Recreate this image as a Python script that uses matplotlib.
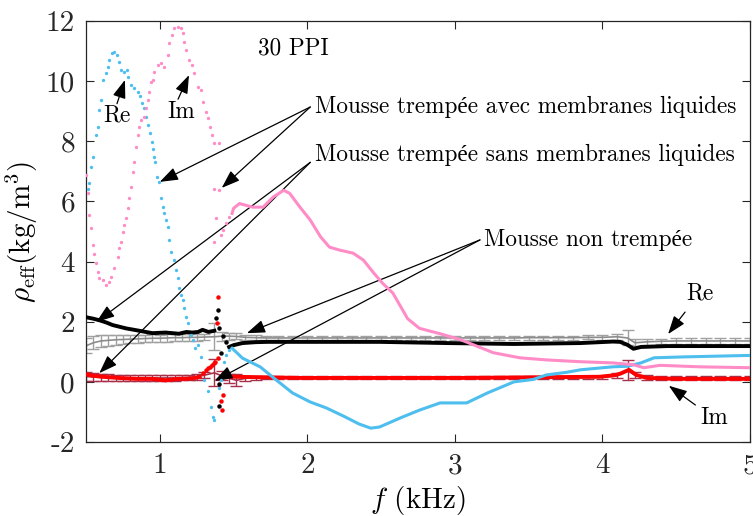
import numpy as np
import matplotlib
matplotlib.use("Agg")
import matplotlib.pyplot as plt

plt.rcParams['font.family'] = ['cmr10', 'Liberation Serif']
plt.rcParams['mathtext.fontset'] = 'cm'
plt.rcParams['axes.unicode_minus'] = False

# --- mousse trempee avec membranes liquides (Re: blue, Im: pink) ---
blue_dot_x = [0.511, 0.523, 0.534, 0.550, 0.568, 0.579, 0.586, 0.602, 0.618, 0.636,
              0.647, 0.658, 0.676, 0.692, 0.708, 0.726, 0.737, 0.760, 0.776, 0.787,
              0.805, 0.828, 0.850, 0.866, 0.880, 0.895, 0.907, 0.918, 0.934, 0.945,
              0.952, 0.963, 0.970, 0.979, 0.993, 1.008, 1.020, 1.031, 1.042, 1.054,
              1.065, 1.076, 1.099, 1.110, 1.121, 1.133, 1.144, 1.155, 1.167, 1.178,
              1.189, 1.212, 1.228, 1.241, 1.257, 1.280, 1.302, 1.325, 1.347, 1.359,
              1.370, 1.404, 1.415, 1.438, 1.449, 1.472]
blue_dot_y = [6.43, 6.60, 7.16, 7.49, 8.21, 8.49, 9.04, 9.37, 10.04, 10.26,
              10.48, 10.70, 10.92, 10.98, 10.87, 10.65, 10.37, 10.31, 10.37, 10.13,
              9.87, 9.76, 9.65, 9.51, 9.26, 9.10, 8.82, 8.54, 8.26, 7.99,
              7.76, 7.49, 7.32, 6.82, 6.66, 6.10, 5.82, 5.60, 5.38, 5.16,
              4.72, 4.33, 4.05, 3.72, 3.44, 3.11, 2.89, 2.72, 2.44, 2.17,
              1.95, 1.56, 1.39, 1.11, 1.22, 0.84, 0.06, -0.29, -0.82, -1.16,
              -1.27, -0.21, 0.06, 0.67, 0.89, 1.06]
blue_line_x = [1.49, 1.56, 1.68, 1.79, 1.90, 2.02, 2.13, 2.25, 2.35, 2.43, 2.49, 2.63,
               2.76, 2.90, 3.00, 3.08, 3.22, 3.40, 3.53, 3.62, 3.76, 3.85, 3.98, 4.07,
               4.17, 4.26, 4.35, 4.55, 5.0]
blue_line_y = [1.12, 0.79, 0.50, 0.06, -0.37, -0.67, -0.87, -1.15, -1.40, -1.54, -1.50, -1.20,
               -0.94, -0.70, -0.70, -0.70, -0.37, 0.0, 0.08, 0.23, 0.32, 0.40, 0.46, 0.50,
               0.52, 0.63, 0.80, 0.83, 0.88]

pink_dot_x = [0.500, 0.511, 0.523, 0.534, 0.545, 0.556, 0.568, 0.579, 0.590, 0.613,
              0.636, 0.658, 0.669, 0.692, 0.715, 0.726, 0.737, 0.749, 0.760, 0.771,
              0.782, 0.794, 0.805, 0.816, 0.828, 0.839, 0.850, 0.862, 0.873, 0.895,
              0.907, 0.918, 0.929, 0.941, 0.952, 0.963, 0.986, 1.008, 1.031, 1.054,
              1.065, 1.083, 1.099, 1.121, 1.144, 1.155, 1.167, 1.178, 1.201, 1.219,
              1.234, 1.257, 1.280, 1.291, 1.314, 1.325, 1.341, 1.354, 1.370, 1.399,
              1.370, 1.404, 1.370, 1.381, 1.415, 1.427, 1.449, 1.472]
pink_dot_y = [6.88, 6.27, 5.55, 5.10, 4.55, 4.25, 3.94, 3.66, 3.44, 3.39,
              3.22, 3.33, 3.50, 3.77, 4.16, 4.44, 4.66, 5.00, 5.22, 5.44,
              5.77, 6.10, 6.49, 6.99, 7.32, 7.82, 8.21, 8.49, 8.71, 8.82,
              9.10, 9.37, 9.65, 9.98, 10.04, 10.31, 10.54, 10.59, 10.48, 10.87,
              11.26, 11.53, 11.76, 11.81, 11.76, 11.59, 11.31, 11.04, 10.70, 10.54,
              10.26, 9.82, 9.71, 9.32, 8.98, 8.76, 8.49, 8.21, 7.93, 7.93,
              6.43, 6.38, 4.66, 5.44, 4.88, 5.05, 5.27, 5.49]
pink_line_x = [1.49, 1.50, 1.54, 1.63, 1.70, 1.77, 1.84, 1.88, 1.95, 2.02, 2.09, 2.15,
               2.22, 2.31, 2.38, 2.45, 2.51, 2.58, 2.68, 2.76, 2.90, 3.04, 3.26, 3.44,
               3.62, 3.85, 4.07, 4.21, 4.28, 4.39, 4.66, 5.0]
pink_line_y = [5.60, 5.77, 5.93, 5.81, 5.81, 6.15, 6.37, 6.27, 5.81, 5.38, 4.82, 4.48,
               4.38, 4.28, 4.05, 3.62, 3.28, 2.95, 2.10, 1.78, 1.60, 1.40, 0.97, 0.80,
               0.73, 0.67, 0.63, 0.57, 0.47, 0.55, 0.50, 0.47]

# --- mousse trempee sans membranes liquides (Re: black, Im: red) ---
black1_x = [0.50, 0.55, 0.59, 0.64, 0.68, 0.77, 0.86, 0.95, 1.04, 1.13, 1.18, 1.22, 1.26,
            1.29, 1.33, 1.37]
black1_y = [2.15, 2.10, 2.05, 1.97, 1.89, 1.78, 1.70, 1.62, 1.64, 1.60, 1.66, 1.64, 1.66,
            1.73, 1.66, 1.70]
black_dot_x = [1.393, 1.381, 1.400, 1.427, 1.449, 1.415, 1.404, 1.404]
black_dot_y = [2.39, 2.14, 1.80, 1.52, 1.33, 0.97, -0.06, -0.81]
black2_x = [1.47, 1.50, 1.56, 1.65, 1.73, 2.18, 2.49, 2.95, 3.40, 3.85, 4.07, 4.12,
            4.17, 4.21, 4.26, 4.44, 5.0]
black2_y = [1.16, 1.22, 1.29, 1.32, 1.33, 1.33, 1.33, 1.29, 1.26, 1.29, 1.34, 1.33,
            1.23, 1.10, 1.16, 1.19, 1.19]

red1_x = [0.50, 0.55, 0.61, 0.72, 0.84, 0.95, 1.04, 1.12, 1.18, 1.24, 1.27]
red1_y = [0.25, 0.20, 0.17, 0.13, 0.10, 0.10, 0.05, 0.10, 0.10, 0.13, 0.17]
red_dot_x = [1.29, 1.31, 1.325, 1.34, 1.354, 1.365, 1.377, 1.393,
             1.393, 1.388, 1.427, 1.415, 1.420]
red_dot_y = [0.30, 0.38, 0.45, 0.50, 0.56, 0.62, 0.67, 0.78,
             2.81, 1.97, -0.43, -0.65, -0.92]
red2_x = [1.44, 1.50, 1.95, 2.50, 3.04, 3.50, 3.98, 4.08, 4.12, 4.18, 4.23, 4.30, 4.50, 5.0]
red2_y = [0.15, 0.17, 0.13, 0.13, 0.13, 0.15, 0.17, 0.22, 0.27, 0.40, 0.23, 0.13, 0.10, 0.10]

# --- mousse non trempee (Re: gray, Im: dark red), with error bars ---
nt_x = [0.50, 0.55, 0.60, 0.65, 0.70, 0.75, 0.80, 0.85, 0.90, 0.95, 1.00, 1.05, 1.10,
        1.15, 1.20, 1.25, 1.30, 1.37, 1.42, 1.47, 1.52, 1.58, 1.65, 1.72, 1.80, 1.90,
        2.00, 2.10, 2.20, 2.30, 2.40, 2.50, 2.60, 2.70, 2.80, 2.90, 3.00, 3.10, 3.20,
        3.30, 3.40, 3.50, 3.60, 3.70, 3.80, 3.90, 4.00, 4.10, 4.17, 4.22, 4.30, 4.40,
        4.50, 4.60, 4.70, 4.80, 4.90, 5.00]
gray_y = [1.20, 1.30, 1.36, 1.38, 1.40, 1.41, 1.42, 1.43, 1.44, 1.45, 1.45, 1.46, 1.47,
          1.47, 1.48, 1.48, 1.49, 1.50, 1.52, 1.52, 1.51, 1.48, 1.47, 1.46, 1.46, 1.46,
          1.46, 1.46, 1.46, 1.46, 1.46, 1.46, 1.46, 1.46, 1.46, 1.46, 1.46, 1.46, 1.46,
          1.46, 1.46, 1.47, 1.47, 1.47, 1.47, 1.48, 1.48, 1.50, 1.46, 1.30, 1.33, 1.35,
          1.36, 1.36, 1.36, 1.36, 1.36, 1.36]
gray_err = [0.25, 0.22, 0.20, 0.18, 0.16, 0.15, 0.14, 0.14, 0.13, 0.13, 0.12, 0.12, 0.12,
            0.11, 0.11, 0.11, 0.10, 0.45, 0.15, 0.12, 0.10, 0.08, 0.08, 0.07, 0.07, 0.07,
            0.07, 0.07, 0.07, 0.07, 0.07, 0.07, 0.07, 0.07, 0.07, 0.07, 0.07, 0.07, 0.07,
            0.07, 0.07, 0.07, 0.07, 0.07, 0.07, 0.07, 0.08, 0.10, 0.25, 0.12, 0.10, 0.09,
            0.09, 0.09, 0.09, 0.09, 0.09, 0.09]
dred_y = [0.18, 0.16, 0.15, 0.14, 0.14, 0.13, 0.13, 0.13, 0.13, 0.13, 0.13, 0.13, 0.13,
          0.14, 0.15, 0.17, 0.22, 0.30, 0.20, 0.12, 0.05, 0.12, 0.14, 0.14, 0.14, 0.14,
          0.14, 0.14, 0.14, 0.14, 0.14, 0.14, 0.14, 0.14, 0.14, 0.14, 0.14, 0.14, 0.14,
          0.14, 0.14, 0.14, 0.14, 0.14, 0.14, 0.15, 0.15, 0.20, 0.40, 0.22, 0.15, 0.14,
          0.13, 0.13, 0.13, 0.13, 0.12, 0.12]
dred_err = [0.15, 0.13, 0.12, 0.11, 0.10, 0.10, 0.09, 0.09, 0.09, 0.09, 0.09, 0.09, 0.09,
            0.09, 0.09, 0.10, 0.10, 0.45, 0.15, 0.15, 0.20, 0.08, 0.07, 0.06, 0.06, 0.06,
            0.06, 0.06, 0.06, 0.06, 0.06, 0.06, 0.06, 0.06, 0.06, 0.06, 0.06, 0.06, 0.06,
            0.06, 0.06, 0.06, 0.06, 0.06, 0.06, 0.06, 0.06, 0.08, 0.33, 0.10, 0.08, 0.07,
            0.07, 0.07, 0.07, 0.07, 0.07, 0.07]

xticks = [1, 2, 3, 4, 5]
yticks = [-2, 0, 2, 4, 6, 8, 10, 12]

BLUE = '#4dbeee'
PINK = '#ff8cc6'
GRAY = '#8c8c8c'
DRED = '#a8304a'

fig = plt.figure(figsize=(7.53, 5.16), dpi=100)
ax = fig.add_axes([0.1142, 0.1434, 0.8818, 0.8159])

ax.errorbar(nt_x, gray_y, yerr=gray_err, color=GRAY, ecolor='#a0a0a0', lw=1.2,
            elinewidth=1, capsize=4, capthick=1, zorder=2)
ax.errorbar(nt_x, dred_y, yerr=dred_err, color=DRED, ecolor=DRED, lw=1.2,
            elinewidth=1, capsize=4, capthick=1, zorder=2)

ax.plot(black1_x, black1_y, color='black', lw=2.8, zorder=3)
ax.plot(black2_x, black2_y, color='black', lw=2.8, zorder=3)
ax.plot(black_dot_x, black_dot_y, 'o', color='black', ms=2.2, zorder=3)
ax.plot(red1_x, red1_y, color='red', lw=2.8, zorder=3)
ax.plot(red2_x, red2_y, color='red', lw=2.8, zorder=3)
ax.plot(red_dot_x, red_dot_y, 'o', color='red', ms=2.2, zorder=3)

ax.plot(blue_dot_x, blue_dot_y, 'o', color=BLUE, ms=2.4, mew=0, zorder=4)
ax.plot(blue_line_x, blue_line_y, color=BLUE, lw=2.2, zorder=4)
ax.plot(pink_dot_x, pink_dot_y, 'o', color=PINK, ms=2.4, mew=0, zorder=4)
ax.plot(pink_line_x, pink_line_y, color=PINK, lw=2.2, zorder=4)

ax.set_xlim(0.5, 5)
ax.set_ylim(-2, 12)
ax.set_xticks(xticks)
ax.set_xticklabels([str(t) for t in xticks])
ax.set_yticks(yticks)
ax.set_yticklabels([str(t) for t in yticks])
ax.tick_params(direction='in', length=6, width=0.8, top=True, right=True,
               labelsize=21, pad=8, colors='#262626')
for s in ax.spines.values():
    s.set_linewidth(0.9)
    s.set_color('#262626')

ax.set_xlabel(r'$f$ (kHz)', fontsize=21, labelpad=3)
ax.set_ylabel(r'$\rho_{\rm eff}$(kg/m$^3$)', fontsize=21, labelpad=4)

arrow = dict(arrowstyle='-|>,head_length=0.7,head_width=0.25', color='black', lw=0.9,
             mutation_scale=16, shrinkA=0, shrinkB=0)
tfs = 16.7

ax.text(1.666, 11.1, '30 PPI', fontsize=tfs, va='center', ha='left')

t1 = (2.02, 9.14)
ax.text(t1[0] + 0.03, t1[1], 'Mousse trempée avec membranes liquides', fontsize=tfs,
        va='center', ha='left')
for tip in [(1.0, 6.65), (1.42, 6.45)]:
    ax.annotate('', xy=tip, xytext=t1, arrowprops=arrow)

t2 = (2.02, 7.30)
ax.text(t2[0] + 0.03, 7.54, 'Mousse trempée sans membranes liquides', fontsize=tfs,
        va='center', ha='left')
for tip in [(0.57, 1.99), (0.59, 0.29)]:
    ax.annotate('', xy=tip, xytext=t2, arrowprops=arrow)

t3 = (3.17, 4.72)
ax.text(t3[0] + 0.03, t3[1], 'Mousse non trempée', fontsize=tfs, va='center', ha='left')
for tip in [(1.59, 1.62), (1.37, 0.03)]:
    ax.annotate('', xy=tip, xytext=t3, arrowprops=arrow)

ax.text(0.71, 8.87, 'Re', fontsize=tfs, ha='center', va='center')
ax.annotate('', xy=(0.764, 10.04), xytext=(0.71, 9.25), arrowprops=arrow)
ax.text(1.144, 8.97, 'Im', fontsize=tfs, ha='center', va='center')
ax.annotate('', xy=(1.198, 10.2), xytext=(1.124, 9.4), arrowprops=arrow)
ax.text(4.66, 2.95, 'Re', fontsize=tfs, ha='center', va='center')
ax.annotate('', xy=(4.445, 1.59), xytext=(4.56, 2.32), arrowprops=arrow)
ax.text(4.76, -1.2, 'Im', fontsize=tfs, ha='center', va='center')
ax.annotate('', xy=(4.45, -0.13), xytext=(4.63, -0.77), arrowprops=arrow)

fig.savefig('out.png', dpi=100)
